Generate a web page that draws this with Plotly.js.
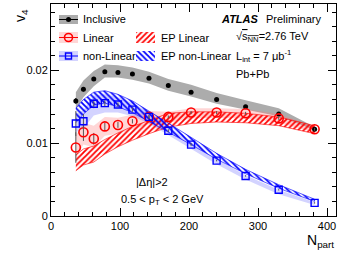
<!DOCTYPE html>
<html>
<head>
<meta charset="utf-8">
<script src="https://cdn.plot.ly/plotly-3.0.1.min.js"></script>
<style>html,body{margin:0;padding:0;background:#fff;}#c{width:341px;height:255px;}</style>
</head>
<body>
<div id="c"></div>
<script>
// ---- data ----
const npart = [36, 47, 62, 78, 97, 118, 142, 170, 203, 240, 282, 330, 382];
const inclusive = [0.0158, 0.0174, 0.0188, 0.0198, 0.0197, 0.0195, 0.0189, 0.0179, 0.0170, 0.0160, 0.0150, 0.0140, 0.0119];
const inclusiveErr = [0.0004, 0.0003, 0.0002, 0.0002, 0.0002, 0.0002, 0.0002, 0.0002, 0.0002, 0.0002, 0.0002, 0.0002, 0.0002];
const inclSysLow = [0.0146, 0.0163, 0.0178, 0.0190, 0.0190, 0.0187, 0.0182, 0.0172, 0.0164, 0.0154, 0.0146, 0.0137, 0.0118];
const inclSysHigh = [0.0170, 0.0186, 0.0199, 0.0208, 0.0207, 0.0204, 0.0198, 0.0188, 0.0180, 0.0169, 0.0159, 0.0148, 0.0122];

const linear = [0.0094, 0.0115, 0.0106, 0.0123, 0.0125, 0.0130, 0.0136, 0.0136, 0.0142, 0.0142, 0.0141, 0.0134, 0.0119];
const linearErr = [0.0021, 0.0012, 0.0008, 0.0005, 0.0004, 0.0003, 0.0003, 0.0002, 0.0002, 0.0002, 0.0002, 0.0002, 0.0002];
const linSysLow = [0.0080, 0.0098, 0.0094, 0.0110, 0.0113, 0.0119, 0.0126, 0.0128, 0.0134, 0.0135, 0.0134, 0.0128, 0.0115];
const linSysHigh = [0.0110, 0.0128, 0.0124, 0.0136, 0.0135, 0.0139, 0.0144, 0.0143, 0.0148, 0.0148, 0.0147, 0.0140, 0.0123];
const epLinLow = [0.0062, 0.0070, 0.0074, 0.0085, 0.0095, 0.0104, 0.0113, 0.0122, 0.0127, 0.0129, 0.0128, 0.0124, 0.0113];
const epLinHigh = [0.0084, 0.0092, 0.0096, 0.0105, 0.0114, 0.0123, 0.0131, 0.0141, 0.0143, 0.0143, 0.0141, 0.0136, 0.0124];

const nonlinear = [0.0127, 0.0130, 0.0154, 0.0155, 0.0153, 0.0146, 0.0136, 0.0117, 0.0098, 0.0076, 0.0055, 0.0036, 0.0018];
const nonlinearErr = [0.0017, 0.0010, 0.0006, 0.0004, 0.0003, 0.0003, 0.0002, 0.0002, 0.0002, 0.0001, 0.0001, 0.0001, 0.0001];
const nlSysLow = [0.0115, 0.0120, 0.0138, 0.0142, 0.0142, 0.0137, 0.0127, 0.0110, 0.0092, 0.0071, 0.0050, 0.0030, 0.0015];
const nlSysHigh = [0.0140, 0.0145, 0.0165, 0.0167, 0.0163, 0.0155, 0.0142, 0.0122, 0.0101, 0.0078, 0.0056, 0.0036, 0.0019];
const epNlLow = [0.0128, 0.0140, 0.0152, 0.0155, 0.0150, 0.0142, 0.0130, 0.0115, 0.0098, 0.0078, 0.0058, 0.0038, 0.0020];
const epNlHigh = [0.0148, 0.0160, 0.0170, 0.0172, 0.0167, 0.0158, 0.0144, 0.0127, 0.0108, 0.0086, 0.0064, 0.0043, 0.0023];

const xTickVals = [0, 100, 200, 300, 400];
const xTickText = ["0", "100", "200", "300", "400"];
const yTickVals = [0, 0.01, 0.02];
const yTickText = ["0", "0.01", "0.02"];

// ---- helpers ----
function band(x, lo, hi, opts) {
  const xs = x.concat(x.slice().reverse());
  const ys = hi.concat(lo.slice().reverse());
  return Object.assign({x: xs, y: ys, type: 'scatter', mode: 'lines', fill: 'toself',
    line: {width: 0}, hoverinfo: 'skip', showlegend: false, xaxis: 'x', yaxis: 'y'}, opts);
}
function rect(x0, x1, y0, y1, opts) {
  return Object.assign({x: [x0, x1, x1, x0, x0], y: [y0, y0, y1, y1, y0], type: 'scatter',
    mode: 'lines', fill: 'toself', line: {width: 0}, xaxis: 'x2', yaxis: 'y2',
    hoverinfo: 'skip', showlegend: false}, opts);
}
function legLine(y, color) {
  return {x: [59, 78], y: [y, y], xaxis: 'x2', yaxis: 'y2', type: 'scatter', mode: 'lines',
    showlegend: false, hoverinfo: 'skip', line: {color: color, width: 1}};
}
function legMarker(y, marker) {
  return {x: [68.5], y: [y], xaxis: 'x2', yaxis: 'y2', type: 'scatter', mode: 'markers',
    showlegend: false, hoverinfo: 'skip', marker: marker};
}

const RED = 'rgb(255,0,0)', BLUE = 'rgb(0,0,255)';
const redHatch = {shape: '/', fgcolor: RED, bgcolor: 'rgba(0,0,0,0)', size: 4, solidity: 0.45};
const blueHatch = {shape: '\\', fgcolor: BLUE, bgcolor: 'rgba(0,0,0,0)', size: 4, solidity: 0.45};
const traces = [
  band(npart, inclSysLow, inclSysHigh, {fillcolor: 'rgb(172,172,172)'}),
  band(npart, linSysLow, linSysHigh, {fillcolor: 'rgba(255,120,120,0.3)'}),
  band(npart, nlSysLow, nlSysHigh, {fillcolor: 'rgba(110,110,255,0.3)'}),
  band(npart, epLinLow, epLinHigh, {fillcolor: 'rgba(0,0,0,0)', fillpattern: redHatch,
    line: {width: 0.6, color: RED}}),
  band(npart, epNlLow, epNlHigh, {fillcolor: 'rgba(0,0,0,0)', fillpattern: blueHatch,
    line: {width: 0.6, color: BLUE}}),
  {x: npart, y: inclusive, type: 'scatter', mode: 'markers', showlegend: false,
   error_y: {type: 'data', array: inclusiveErr, color: '#000', thickness: 1, width: 0},
   marker: {color: '#000', size: 5, symbol: 'circle'}},
  {x: npart, y: linear, type: 'scatter', mode: 'markers', showlegend: false,
   error_y: {type: 'data', array: linearErr, color: '#555', thickness: 1, width: 0},
   marker: {color: RED, size: 9, symbol: 'circle-open', line: {color: RED, width: 1.6}}},
  {x: npart, y: nonlinear, type: 'scatter', mode: 'markers', showlegend: false,
   error_y: {type: 'data', array: nonlinearErr, color: '#555', thickness: 1, width: 0},
   marker: {color: BLUE, size: 7, symbol: 'square-open', line: {color: BLUE, width: 1.4}}},
  // legend glyphs (pixel coordinate overlay)
  rect(59, 78, 15, 24, {fillcolor: 'rgb(172,172,172)'}),
  rect(59, 78, 32, 43, {fillcolor: 'rgba(255,120,120,0.3)'}),
  rect(59, 78, 51, 61, {fillcolor: 'rgba(110,110,255,0.3)'}),
  rect(136, 155, 32, 43, {fillcolor: 'rgba(0,0,0,0)', fillpattern: redHatch}),
  rect(136, 155, 51, 61, {fillcolor: 'rgba(0,0,0,0)', fillpattern: blueHatch}),
  legLine(19.5, '#000'), legLine(37.5, RED), legLine(56, BLUE),
  legMarker(19.5, {size: 5, color: '#000'}),
  legMarker(37.5, {size: 8, symbol: 'circle-open', color: RED, line: {color: RED, width: 1.6}}),
  legMarker(56, {size: 6, symbol: 'square-open', color: BLUE, line: {color: BLUE, width: 1.4}})
];

const F = 'Liberation Sans, Arial, Helvetica, sans-serif';
const L = 51, R = 5, T = 4, B = 39, W = 341, H = 255;
function px2paper(x, y) { return [(x - L) / (W - L - R), (H - B - y) / (H - T - B)]; }
function ann(x, y, text, size, extra) {
  const p = px2paper(x, y);
  return Object.assign({x: p[0], y: p[1], xref: 'paper', yref: 'paper', text: text, showarrow: false,
    xanchor: 'left', yanchor: 'middle', font: {family: F, size: size, color: '#000'}}, extra || {});
}

const layout = {
  width: W, height: H,
  margin: {l: L, r: R, t: T, b: B, pad: 0},
  paper_bgcolor: '#fff', plot_bgcolor: '#fff',
  showlegend: false,
  font: {family: F, size: 11, color: '#000'},
  xaxis: {range: [0, 413], tickvals: xTickVals, ticktext: xTickText, ticks: 'inside', ticklen: 8,
    tickcolor: '#000', showline: true, linecolor: '#000', linewidth: 1, mirror: 'allticks',
    showgrid: false, zeroline: false, tickfont: {family: F, size: 11},
    minor: {dtick: 20, tick0: 0, ticks: 'inside', ticklen: 4, tickcolor: '#000', showgrid: false}},
  yaxis: {range: [0, 0.0291], tickvals: yTickVals, ticktext: yTickText, ticks: 'inside', ticklen: 8,
    tickcolor: '#000', showline: true, linecolor: '#000', linewidth: 1, mirror: 'allticks',
    showgrid: false, zeroline: false, tickfont: {family: F, size: 11},
    minor: {dtick: 0.002, tick0: 0, ticks: 'inside', ticklen: 4, tickcolor: '#000', showgrid: false}},
  xaxis2: {overlaying: 'x', range: [L, W - R], showticklabels: false, ticks: '', showline: false,
    showgrid: false, zeroline: false, fixedrange: true},
  yaxis2: {overlaying: 'y', range: [H - B, T], showticklabels: false, ticks: '', showline: false,
    showgrid: false, zeroline: false, fixedrange: true},
  annotations: [
    ann(81, 19.5, 'Inclusive', 11),
    ann(81, 37.5, 'Linear', 11),
    ann(81, 56, 'non-Linear', 11),
    ann(159, 37.5, 'EP Linear', 11),
    ann(159, 56, 'EP non-Linear', 11),
    ann(219, 18.5, '<b><i>ATLAS</i></b>', 11),
    ann(264, 18.5, 'Preliminary', 11),
    ann(234, 37, '√<span style="text-decoration:overline">s<sub>NN</sub></span>=2.76 TeV', 11),
    ann(234, 56, 'L<sub>int</sub> = 7 μb<sup>-1</sup>', 11),
    ann(234, 74, 'Pb+Pb', 11),
    ann(152, 182, '|Δη|>2', 11, {xanchor: 'center'}),
    ann(162, 200, '0.5 < p<sub>T</sub> < 2 GeV', 11, {xanchor: 'center'}),
    ann(21, 16, 'v<sub>4</sub>', 14, {xanchor: 'center', textangle: -90}),
    ann(336, 241, 'N<sub>part</sub>', 14, {xanchor: 'right'})
  ]
};

Plotly.newPlot('c', traces, layout, {staticPlot: true, displayModeBar: false});
</script>
</body>
</html>
